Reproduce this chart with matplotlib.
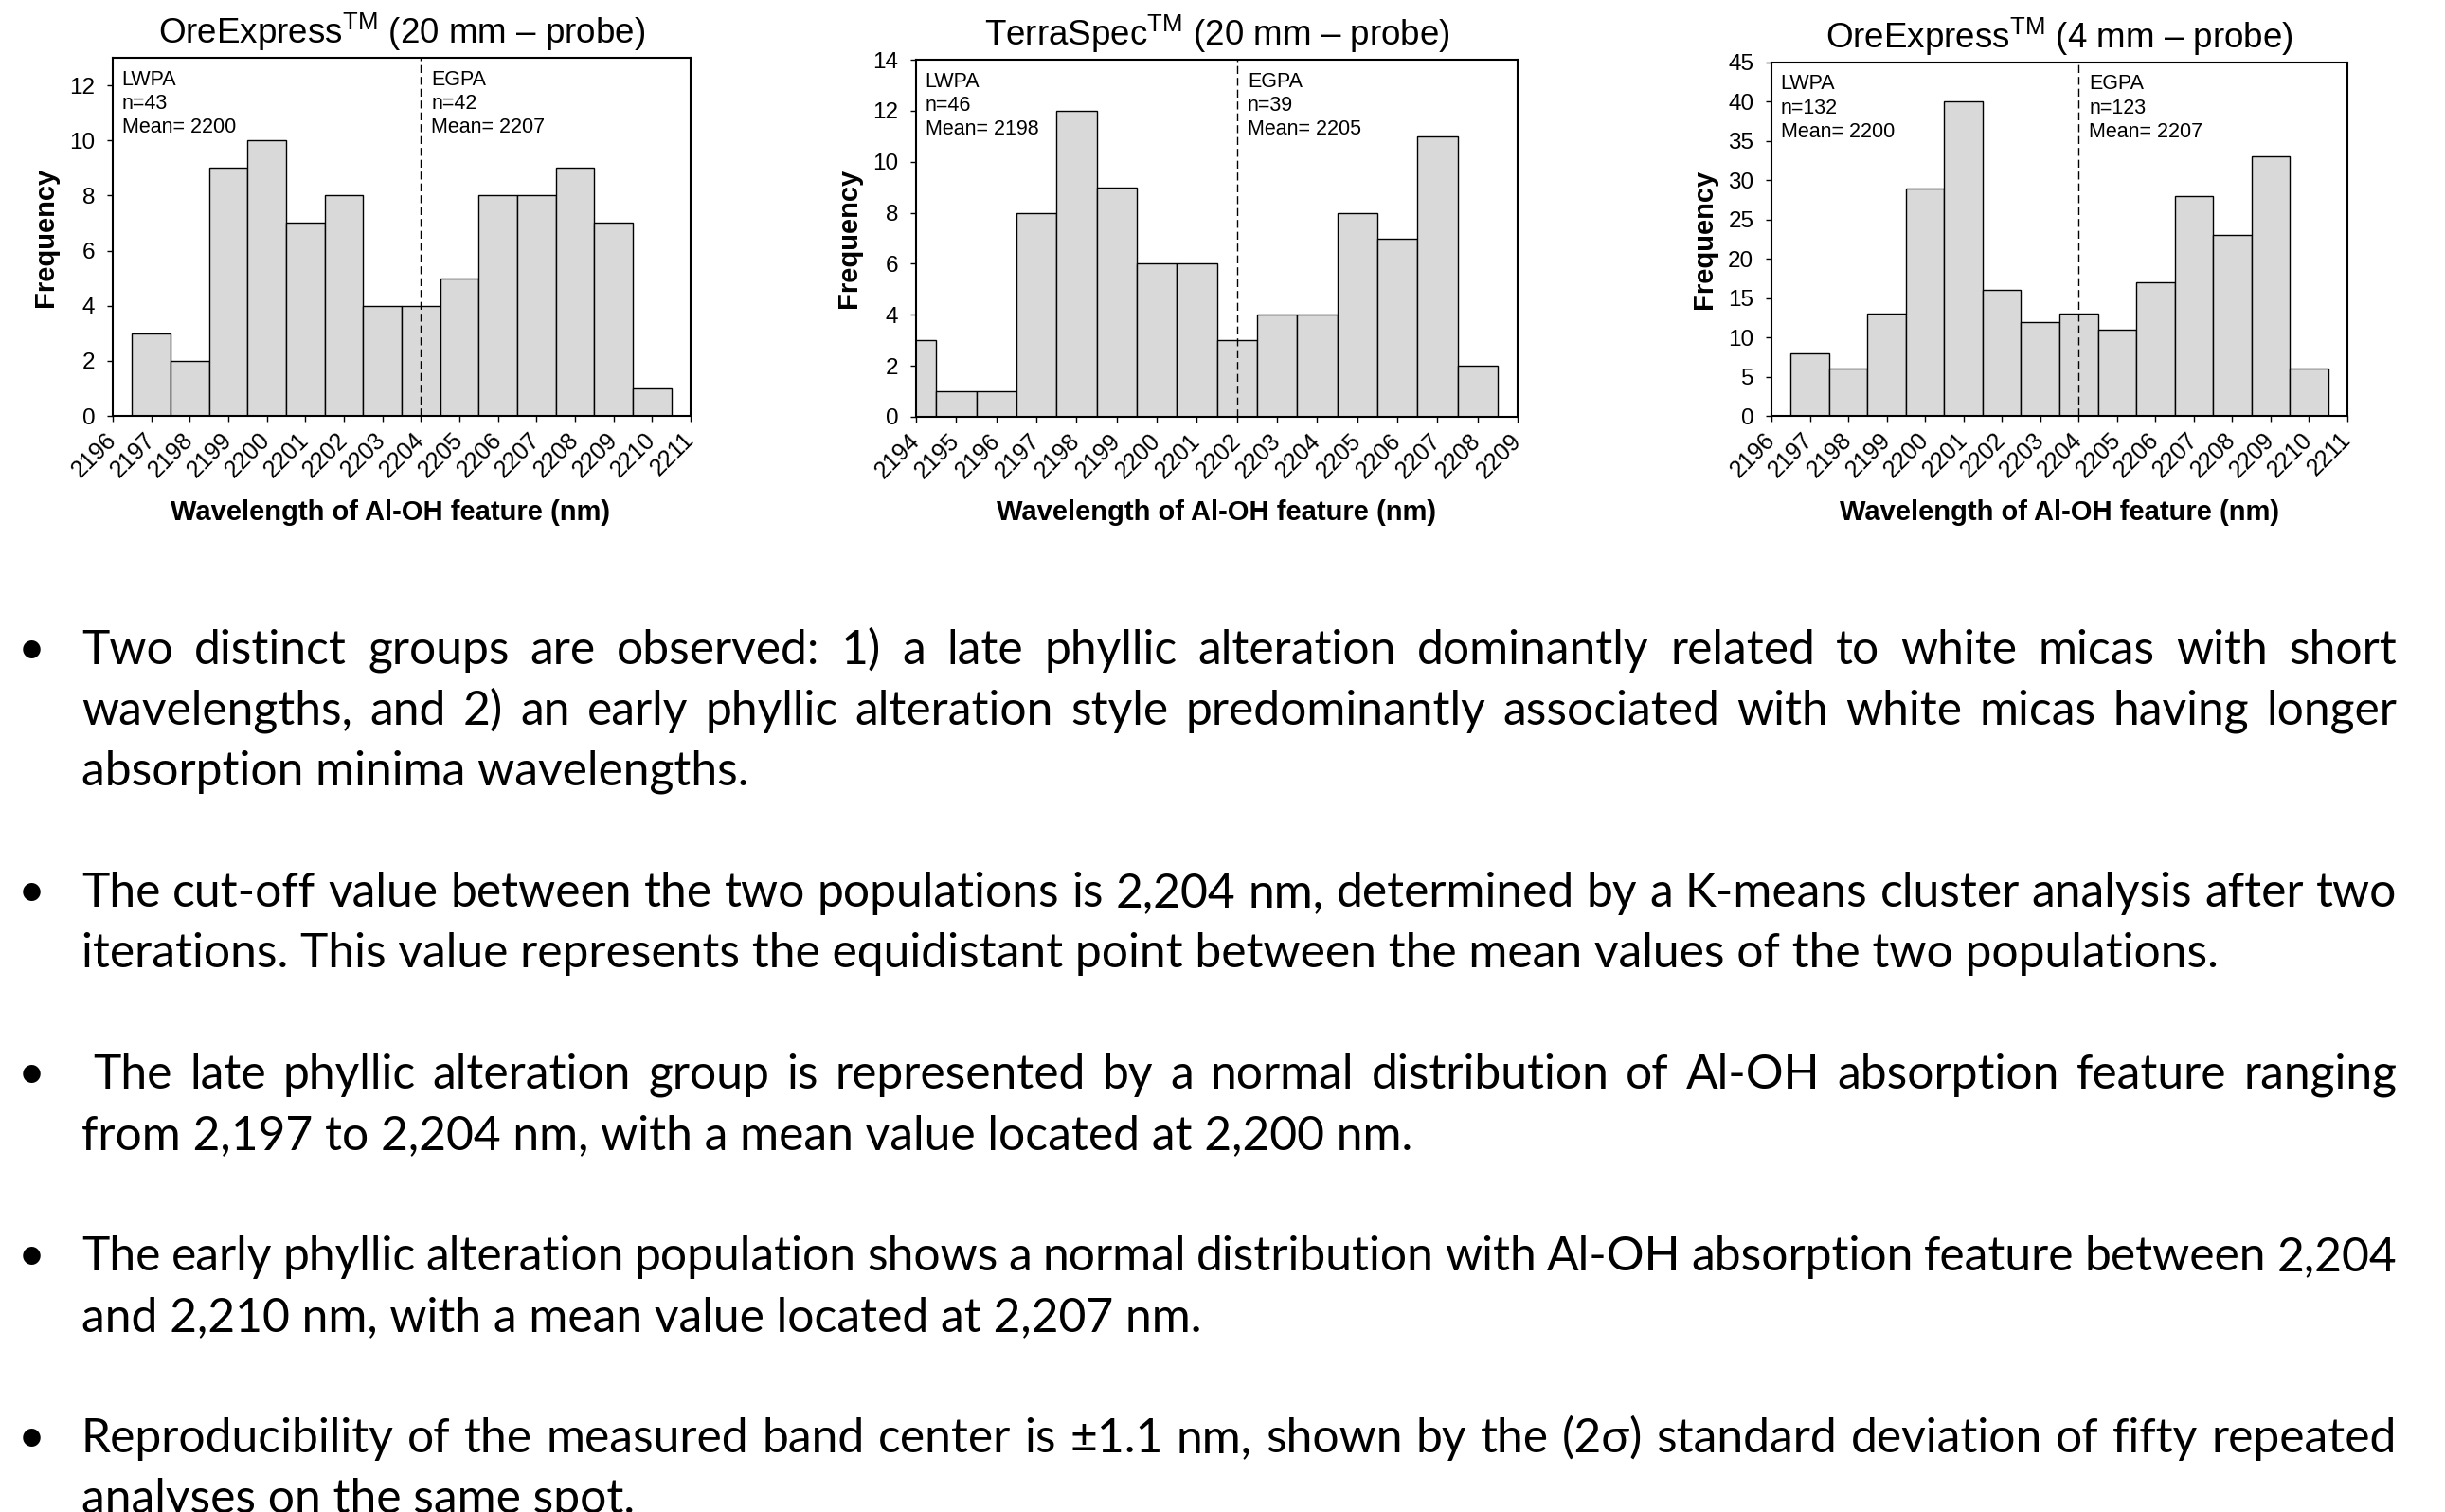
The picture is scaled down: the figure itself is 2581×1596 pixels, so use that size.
import matplotlib.pyplot as plt
from matplotlib.transforms import blended_transform_factory

plt.rcParams['font.family'] = ['Liberation Sans', 'DejaVu Sans']
plt.rcParams['mathtext.fontset'] = 'custom'
plt.rcParams['mathtext.rm'] = 'Liberation Sans'

FIG_W, FIG_H = 2581, 1596

# Al-OH absorption feature histograms: bin centre (nm) and count per 1 nm bin
ore20_wl = [2197, 2198, 2199, 2200, 2201, 2202, 2203, 2204, 2205, 2206, 2207, 2208, 2209, 2210]
ore20_counts = [3, 2, 9, 10, 7, 8, 4, 4, 5, 8, 8, 9, 7, 1]

terra_wl = [2194, 2195, 2196, 2197, 2198, 2199, 2200, 2201, 2202, 2203, 2204, 2205, 2206, 2207, 2208]
terra_counts = [3, 1, 1, 8, 12, 9, 6, 6, 3, 4, 4, 8, 7, 11, 2]

ore4_wl = [2197, 2198, 2199, 2200, 2201, 2202, 2203, 2204, 2205, 2206, 2207, 2208, 2209, 2210]
ore4_counts = [8, 6, 13, 29, 40, 16, 12, 13, 11, 17, 28, 23, 33, 6]

panel_titles = [
    'OreExpress$^{\\mathrm{TM}}$ (20 mm \u2013 probe)',
    'TerraSpec$^{\\mathrm{TM}}$ (20 mm \u2013 probe)',
    'OreExpress$^{\\mathrm{TM}}$ (4 mm \u2013 probe)',
]
cutoffs = [2204, 2202, 2204]
lwpa_n = [43, 46, 132]
lwpa_mean = [2200, 2198, 2200]
egpa_n = [42, 39, 123]
egpa_mean = [2207, 2205, 2207]
x_ranges = [(2196, 2211), (2194, 2209), (2196, 2211)]
y_tops = [13, 14, 45]
y_steps = [2, 2, 5]

bullets = [
    ["Two distinct groups are observed: 1) a late phyllic alteration dominantly related to white micas with short",
     "wavelengths, and 2) an early phyllic alteration style predominantly associated with white micas having longer",
     "absorption minima wavelengths."],
    ["The cut-off value between the two populations is 2,204 nm, determined by a K-means cluster analysis after two",
     "iterations. This value represents the equidistant point between the mean values of the two populations."],
    [" The late phyllic alteration group is represented by a normal distribution of Al-OH absorption feature ranging",
     "from 2,197 to 2,204 nm, with a mean value located at 2,200 nm."],
    ["The early phyllic alteration population shows a normal distribution with Al-OH absorption feature between 2,204",
     "and 2,210 nm, with a mean value located at 2,207 nm."],
    ["Reproducibility of the measured band center is \u00b11.1 nm, shown by the (2\u03c3) standard deviation of fifty repeated",
     "analyses on the same spot."],
]

fig = plt.figure(figsize=(FIG_W / 100, FIG_H / 100), dpi=100)


def add_axes_px(left, top, right, bottom):
    return fig.add_axes([left / FIG_W, 1 - bottom / FIG_H,
                         (right - left) / FIG_W, (bottom - top) / FIG_H])


panel_boxes = [(119, 61, 729, 439), (967, 63, 1602, 440), (1870, 66, 2478, 439)]
xlabel_centers = [412, 1284, 2174]
panel_data = [(ore20_wl, ore20_counts), (terra_wl, terra_counts), (ore4_wl, ore4_counts)]

for i, (wl, counts) in enumerate(panel_data):
    left, top, right, bottom = panel_boxes[i]
    ax = add_axes_px(left, top, right, bottom)
    w_px, h_px = right - left, bottom - top

    ax.bar(wl, counts, width=1.0, color='#d9d9d9', edgecolor='black', linewidth=1.0, zorder=2)
    ax.axvline(cutoffs[i], color='black', lw=1.0, ls=(0, (6, 3)), zorder=3)

    x0, x1 = x_ranges[i]
    ax.set_xlim(x0, x1)
    ax.set_ylim(0, y_tops[i])
    ax.set_xticks(range(x0, x1 + 1))
    ax.set_yticks(range(0, y_tops[i] + 1, y_steps[i]))
    ax.tick_params(direction='out', length=4.5, width=1.0, top=False, right=False)
    ax.tick_params(axis='y', labelsize=17.5, pad=9)
    ax.tick_params(axis='x', labelsize=18, pad=11, labelrotation=45)
    for lbl in ax.get_xticklabels():
        lbl.set_ha('right')
        lbl.set_va('center')
        lbl.set_rotation_mode('anchor')
    for sp in ax.spines.values():
        sp.set_linewidth(1.5)

    ax.set_title(panel_titles[i], fontsize=26.5, pad=11)
    ax.set_xlabel('Wavelength of Al-OH feature (nm)', fontsize=21, fontweight='bold')
    ax.xaxis.set_label_coords((xlabel_centers[i] - left) / w_px, -(527 - bottom) / h_px)
    ax.set_ylabel('Frequency', fontsize=21, fontweight='bold')
    ax.yaxis.set_label_coords(-57 / w_px, 0.5)

    ax.annotate(f'LWPA\nn={lwpa_n[i]}\nMean= {lwpa_mean[i]}', xy=(0, 1), xycoords='axes fraction',
                xytext=(7, -9), textcoords='offset points', ha='left', va='top',
                fontsize=15.5, linespacing=1.27)
    tr = blended_transform_factory(ax.transData, ax.transAxes)
    ax.annotate(f'EGPA\nn={egpa_n[i]}\nMean= {egpa_mean[i]}', xy=(cutoffs[i], 1), xycoords=tr,
                xytext=(8, -9), textcoords='offset points', ha='left', va='top',
                fontsize=15.5, linespacing=1.27)

# bullet list below the charts, justified word by word
body_font = ['Lato', 'DejaVu Sans']
renderer = fig.canvas.get_renderer()


def ink_width(s, size):
    t = fig.text(0, 0, s, fontsize=size, family=body_font)
    w = t.get_window_extent(renderer).width
    t.remove()
    return w


body_size = 30 * 704 / ink_width('absorption minima wavelengths.', 30)
space_w = ink_width('n n', body_size) - ink_width('nn', body_size)

text_left, text_right = 86, 2530
baseline0, line_step = 701, 64
row = 0
for para in bullets:
    y = 1 - (baseline0 + row * line_step) / FIG_H
    fig.text(33 / FIG_W, y, '\u2022', ha='center', va='baseline', fontsize=body_size, family=body_font)
    for j, line in enumerate(para):
        y = 1 - (baseline0 + row * line_step) / FIG_H
        lead = len(line) - len(line.lstrip(' '))
        x = text_left + lead * space_w
        if j == len(para) - 1:
            fig.text(x / FIG_W, y, line.strip(), ha='left', va='baseline',
                     fontsize=body_size, family=body_font)
        else:
            words = line.split()
            widths = [ink_width(w, body_size) for w in words]
            gap = (text_right - x - sum(widths)) / (len(words) - 1)
            for word, wd in zip(words, widths):
                fig.text(x / FIG_W, y, word, ha='left', va='baseline',
                         fontsize=body_size, family=body_font)
                x += wd + gap
        row += 1
    row += 1

fig.savefig('out.png', dpi=100, facecolor='white')
